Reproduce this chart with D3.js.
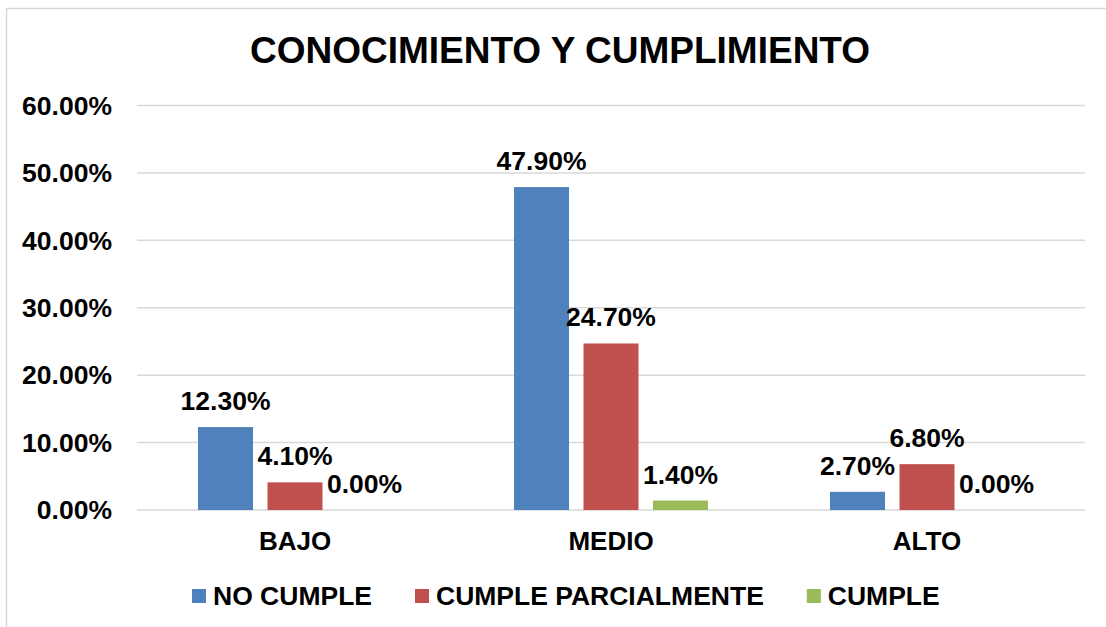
<!DOCTYPE html>
<html>
<head>
<meta charset="utf-8">
<script src="https://cdn.jsdelivr.net/npm/d3@7"></script>
<style>
    body { margin: 0; background: #ffffff; }
    svg text { font-family: Arial, "Liberation Sans", sans-serif; font-weight: bold; fill: #000; }
</style>
</head>
<body>
<div id="screen"></div>
<script>
var categories = ["BAJO", "MEDIO", "ALTO"];
var seriesNames = ["NO CUMPLE", "CUMPLE PARCIALMENTE", "CUMPLE"];
var noCumple = [0.123, 0.479, 0.027];
var cumpleParcial = [0.041, 0.247, 0.068];
var cumple = [0.000, 0.014, 0.000];
var yTicks = [0, 0.1, 0.2, 0.3, 0.4, 0.5, 0.6];
var colours = ["#4F81BD", "#C0504D", "#9BBB59"];

var width = 1106, height = 627;
var plot = {left: 137, right: 1085, top: 105.5, bottom: 510};

var svg = d3.select("#screen").append("svg").attr("width", width).attr("height", height);

// chart area border (runs off the right/bottom edge)
svg.append("rect")
    .attr("x", 6.5).attr("y", 8.5)
    .attr("width", 1200).attr("height", 700)
    .attr("fill", "none").attr("stroke", "#d9d9d9").attr("stroke-width", 1.5);

svg.append("text")
    .attr("x", 560).attr("y", 63)
    .attr("text-anchor", "middle")
    .style("font-size", "37px")
    .text("CONOCIMIENTO Y CUMPLIMIENTO");

var y = d3.scaleLinear().domain([0, 0.6]).range([plot.bottom, plot.top]);
var x0 = d3.scaleBand().domain(categories).range([plot.left, plot.right]);
var x1 = d3.scaleBand().domain(seriesNames).range([0, x0.bandwidth()])
    .paddingInner(0.2086).paddingOuter(0.878);

// gridlines
svg.append("g").selectAll("line").data(yTicks).enter().append("line")
    .attr("x1", plot.left).attr("x2", plot.right)
    .attr("y1", d => y(d)).attr("y2", d => y(d))
    .attr("stroke", "#d9d9d9").attr("stroke-width", 1.5);

// y axis labels
var yAxis = d3.axisLeft(y).tickValues(yTicks).tickFormat(d3.format(".2%")).tickSize(0).tickPadding(25);
var yg = svg.append("g").attr("transform", "translate(" + plot.left + ",0)").call(yAxis);
yg.select(".domain").remove();
yg.selectAll("text").style("font-size", "26.5px").attr("dy", "0.33em");

var table = categories.map((c, i) => ({
    cat: c,
    values: [noCumple[i], cumpleParcial[i], cumple[i]]
}));

var groups = svg.append("g").selectAll("g").data(table).enter().append("g")
    .attr("transform", d => "translate(" + x0(d.cat) + ",0)");

groups.selectAll("rect").data(d => d.values.map((v, j) => ({name: seriesNames[j], value: v, j: j})))
    .enter().append("rect")
    .attr("x", d => x1(d.name))
    .attr("y", d => y(d.value))
    .attr("width", x1.bandwidth())
    .attr("height", d => y(0) - y(d.value))
    .attr("fill", d => colours[d.j]);

groups.selectAll("text.lbl").data(d => d.values.map((v, j) => ({name: seriesNames[j], value: v})))
    .enter().append("text").attr("class", "lbl")
    .attr("x", d => x1(d.name) + x1.bandwidth() / 2)
    .attr("y", d => y(d.value) - 17)
    .attr("text-anchor", "middle")
    .style("font-size", "26.5px")
    .text(d => d3.format(".2%")(d.value));

// category labels
svg.append("g").selectAll("text").data(categories).enter().append("text")
    .attr("x", d => x0(d) + x0.bandwidth() / 2)
    .attr("y", 550)
    .attr("text-anchor", "middle")
    .style("font-size", "26px")
    .text(d => d);

// legend
var legend = svg.append("g");
var lx = 192;
seriesNames.forEach(function(name, i) {
    legend.append("rect")
        .attr("x", lx).attr("y", 589).attr("width", 14).attr("height", 14)
        .attr("fill", colours[i]);
    var t = legend.append("text")
        .attr("x", lx + 21).attr("y", 605)
        .style("font-size", "26.5px")
        .text(name);
    lx = lx + 21 + t.node().getComputedTextLength() + 43;
});
</script>
</body>
</html>
